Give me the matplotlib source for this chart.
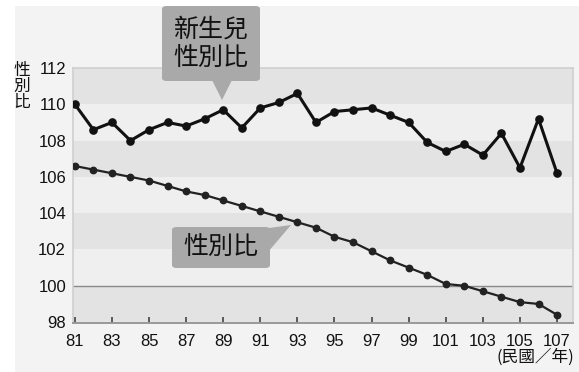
import matplotlib.pyplot as plt
from matplotlib.patches import FancyBboxPatch, Polygon, Rectangle

plt.rcParams["font.family"] = ["Noto Sans CJK TC", "DejaVu Sans"]

years = list(range(81, 108))
# 新生兒性別比 (births)
birth_ratio = [110.0, 108.6, 109.0, 108.0, 108.6, 109.0, 108.8, 109.2, 109.7, 108.7,
               109.8, 110.1, 110.6, 109.0, 109.6, 109.7, 109.8, 109.4, 109.0, 107.9,
               107.4, 107.8, 107.2, 108.4, 106.5, 109.2, 106.2]
# 總人口性別比
pop_ratio = [106.6, 106.4, 106.2, 106.0, 105.8, 105.5, 105.2, 105.0, 104.7, 104.4,
             104.1, 103.8, 103.5, 103.2, 102.7, 102.4, 101.9, 101.4, 101.0, 100.6,
             100.1, 100.0, 99.7, 99.4, 99.1, 99.0, 98.4]
xtick_years = list(range(81, 108, 2))
ytick_vals = [98, 100, 102, 104, 106, 108, 110, 112]
dark_bands = [(98, 100), (102, 104), (106, 108), (110, 112)]

W, H = 579, 372
fig = plt.figure(figsize=(W / 100, H / 100), dpi=100)
fig.patch.set_facecolor("white")
# gray panel behind the chart, leaving a thin white edge
fig.patches.append(Rectangle((15 / W, 0), 1, 1 - 6 / H, transform=fig.transFigure,
                             facecolor="#f3f3f3", edgecolor="none", zorder=-10))


def px(x, y):
    return x / W, 1 - y / H


ax = fig.add_axes([73 / W, 1 - 323 / H, 500 / W, 255 / H])
ax.set_facecolor("#efefef")
for lo, hi in dark_bands:
    ax.axhspan(lo, hi, color="#e3e3e3", zorder=0, lw=0)
ax.axhline(100, color="#8a8a8a", lw=1.0, zorder=1)

ax.plot(years, pop_ratio, color="#222222", lw=1.6, marker="o", ms=4.6, zorder=3)
ax.plot(years, birth_ratio, color="#111111", lw=2.2, marker="o", ms=5.2, zorder=4)

ax.set_xlim(80.9, 107.86)
ax.set_ylim(97.95, 112)
ax.set_xticks(xtick_years)
ax.set_yticks(ytick_vals)
ax.tick_params(axis="x", direction="in", length=4, width=1.2, color="#444444",
               pad=8, labelsize=12)
ax.tick_params(axis="y", length=0, pad=5, labelsize=12)
for lab in ax.get_xticklabels() + ax.get_yticklabels():
    lab.set_family(["Liberation Sans", "DejaVu Sans"])
    lab.set_color("#111111")

for side in ("left", "right", "top"):
    ax.spines[side].set_color("#cfcfcf")
    ax.spines[side].set_linewidth(1.2)
ax.spines["bottom"].set_color("#999999")
ax.spines["bottom"].set_linewidth(1.4)

# y-axis title stacked vertically
for i, ch in enumerate("性別比"):
    fig.text(*px(22, 70 + i * 16.5), ch, ha="center", va="center", fontsize=12,
             fontweight="medium", color="#111111")

fig.text(*px(574, 357), "(民國／年)", ha="right", va="center", fontsize=12,
         fontweight="medium", color="#111111")

box_col = "#a9a9a9"

# callout for births
x0, y0 = px(162, 81)
x1, y1 = px(260, 6)
fig.patches.append(FancyBboxPatch((x0, y0), x1 - x0, y1 - y0, transform=fig.transFigure,
                                  boxstyle="round,pad=0,rounding_size=0.008",
                                  facecolor=box_col, edgecolor="none", zorder=5))
fig.patches.append(Polygon([px(212, 80), px(232, 80), px(222, 100)], closed=True,
                           transform=fig.transFigure, facecolor=box_col,
                           edgecolor="none", zorder=5))
fig.text(*px(211, 30), "新生兒", ha="center", va="center", fontsize=18,
         fontweight="medium", color="#111111", zorder=6)
fig.text(*px(211, 59), "性別比", ha="center", va="center", fontsize=18,
         fontweight="medium", color="#111111", zorder=6)

# callout for total population
x0, y0 = px(172, 268)
x1, y1 = px(270, 227)
fig.patches.append(FancyBboxPatch((x0, y0), x1 - x0, y1 - y0, transform=fig.transFigure,
                                  boxstyle="round,pad=0,rounding_size=0.008",
                                  facecolor=box_col, edgecolor="none", zorder=5))
fig.patches.append(Polygon([px(262, 229), px(268, 252), px(291, 225)], closed=True,
                           transform=fig.transFigure, facecolor=box_col,
                           edgecolor="none", zorder=5))
fig.text(*px(221, 248), "性別比", ha="center", va="center", fontsize=18,
         fontweight="medium", color="#111111", zorder=6)

fig.savefig("out.png", dpi=100)
